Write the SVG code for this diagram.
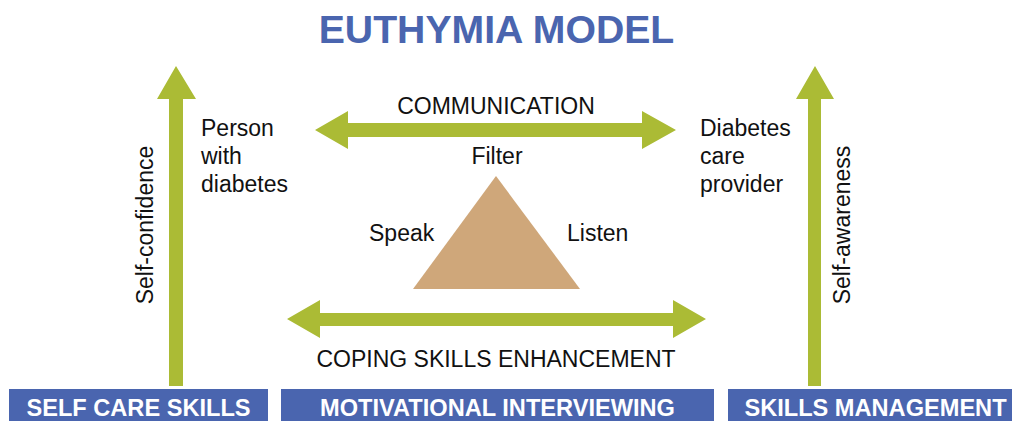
<svg xmlns="http://www.w3.org/2000/svg" width="1012" height="421" viewBox="0 0 1012 421">
<style>
.t{font-family:"Liberation Sans",Arial,sans-serif;fill:#111;font-size:23px}
.bar{fill:#4A65AF}
.bt{font-family:"Liberation Sans",Arial,sans-serif;fill:#fff;font-size:23.6px;font-weight:bold;text-anchor:middle}
.arr{fill:#ABBB35}
</style>
<rect width="1012" height="421" fill="#fff"/>
<text x="496.5" y="43" font-family="Liberation Sans, Arial, sans-serif" font-weight="bold" font-size="39.2" fill="#4A65AF" text-anchor="middle">EUTHYMIA MODEL</text>
<g id="connectors">
<polygon class="arr" points="176,66 157,99 169,99 169,386 183,386 183,99 196,99"/>
<polygon class="arr" points="815,66 796,99 808,99 808,386 821,386 821,99 834,99"/>
<polygon class="arr" points="315,130 348,111 348,123 642,123 642,111 676,130 642,149 642,137 348,137 348,149"/>
<polygon class="arr" points="287,319 320,300 320,313 673,313 673,300 706,319 673,338 673,326 320,326 320,338"/>
<text class="t" x="496" y="114" text-anchor="middle" font-size="24.5">COMMUNICATION</text>
<text class="t" x="496" y="367" text-anchor="middle" font-size="24.5">COPING SKILLS ENHANCEMENT</text>
<text class="t" transform="translate(153,225) rotate(-90)" text-anchor="middle">Self-confidence</text>
<text class="t" transform="translate(850,225) rotate(-90)" text-anchor="middle">Self-awareness</text>
</g>
<g id="triangle">
<polygon points="496,176 580,289 413,289" fill="#CFA77A"/>
<text class="t" x="497" y="164" text-anchor="middle">Filter</text>
<text class="t" x="369" y="241">Speak</text>
<text class="t" x="567" y="241">Listen</text>
</g>
<g id="person">
<text class="t" x="201" y="136">Person</text>
<text class="t" x="201" y="164">with</text>
<text class="t" x="201" y="192">diabetes</text>
</g>
<g id="provider">
<text class="t" x="700" y="136">Diabetes</text>
<text class="t" x="700" y="164">care</text>
<text class="t" x="700" y="192">provider</text>
</g>
<g id="self-care-skills">
<rect class="bar" x="9" y="389" width="259" height="32"/>
<text class="bt" x="138.5" y="416">SELF CARE SKILLS</text>
</g>
<g id="motivational-interviewing">
<rect class="bar" x="281" y="389" width="433" height="32"/>
<text class="bt" x="497.5" y="416">MOTIVATIONAL INTERVIEWING</text>
</g>
<g id="skills-management">
<rect class="bar" x="728" y="389" width="284" height="32"/>
<text class="bt" x="875.5" y="416">SKILLS MANAGEMENT</text>
</g>
</svg>
